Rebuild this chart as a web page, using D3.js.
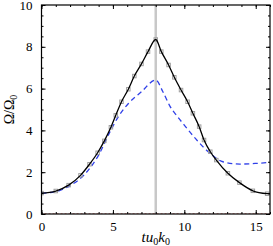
<!DOCTYPE html>
<html>
<head>
<meta charset="utf-8">
<script src="https://cdn.jsdelivr.net/npm/d3@7"></script>
<style>
  body { margin: 0; background: #fff; }
</style>
</head>
<body>
<div id="chart"></div>
<script>

var serif = "'Liberation Serif', 'DejaVu Serif', serif";

// simulation points (black line with grey square markers)
var simT = [0, 1.0, 1.9, 2.73, 3.36, 3.93, 4.4, 4.86, 5.2, 5.6, 6.08, 6.5, 7.0, 7.46, 8.0,
            8.39, 8.9, 9.3, 9.77, 10.23, 10.6, 11.04, 11.38, 11.82, 12.24, 13.05, 13.86, 14.8, 15.8, 16];
var simV = [1.0, 1.1, 1.38, 1.85, 2.38, 2.93, 3.5, 4.15, 4.72, 5.37, 5.97, 6.6, 7.18, 7.77, 8.35,
            7.77, 7.13, 6.54, 5.93, 5.37, 4.82, 4.18, 3.54, 2.98, 2.58, 1.95, 1.5, 1.11, 0.97, 0.96];

// model (blue dashed)
var modelT = [0, 1, 2, 3, 4, 4.8, 5.4, 6.1, 7, 8, 8.5, 9, 9.5, 10, 10.87, 11.8, 12.7, 13.9, 15, 16];
var modelV = [1.0, 1.07, 1.36, 1.88, 2.82, 3.94, 4.68, 5.3, 5.85, 6.41, 5.85, 5.15, 4.68, 4.25, 3.54, 2.9, 2.5, 2.39, 2.42, 2.47];

// red dotted reference
var refT = [0, 0, 16];
var refV = [1, 0, 0];

var markerVisible = simT.map(function(t) { return t < 16; });

var xTicks = [0, 5, 10, 15];
var yTicks = [0, 2, 4, 6, 8, 10];
var tVertical = 8;

var margin = { top: 5, right: 3, bottom: 32, left: 41.5 },
    width = 273 - margin.left - margin.right,
    height = 246 - margin.top - margin.bottom;

var x = d3.scaleLinear().domain([0, 16]).range([0, width]);
var y = d3.scaleLinear().domain([0, 10]).range([height, 0]);

var svg = d3.select("#chart").append("svg")
    .attr("width", 273)
    .attr("height", 246)
  .append("g")
    .attr("transform", "translate(" + margin.left + "," + margin.top + ")");

svg.append("defs").append("clipPath").attr("id", "clip")
  .append("rect").attr("width", width).attr("height", height);

var plot = svg.append("g").attr("clip-path", "url(#clip)");

// grey vertical line
plot.append("line")
    .attr("x1", x(tVertical)).attr("x2", x(tVertical))
    .attr("y1", 0).attr("y2", height)
    .attr("stroke", "#c8c8c8").attr("stroke-width", 2.5);

function zipPts(ts, vs) { return ts.map(function(t, i) { return [t, vs[i]]; }); }

var lineLin = d3.line().x(function(d) { return x(d[0]); }).y(function(d) { return y(d[1]); });
var lineSmooth = d3.line().x(function(d) { return x(d[0]); }).y(function(d) { return y(d[1]); })
    .curve(d3.curveMonotoneX);

// red dotted
plot.append("path")
    .datum(zipPts(refT, refV))
    .attr("d", lineLin)
    .attr("fill", "none").attr("stroke", "#d04040").attr("stroke-width", 1)
    .attr("stroke-dasharray", "2,2");

// blue dashed
plot.append("path")
    .datum(zipPts(modelT, modelV))
    .attr("d", lineSmooth)
    .attr("fill", "none").attr("stroke", "#3040e8").attr("stroke-width", 1.3)
    .attr("stroke-dasharray", "5,3.5");

// markers
plot.append("g").selectAll("rect")
    .data(zipPts(simT, simV).filter(function(d, i) { return markerVisible[i]; }))
    .enter().append("rect")
      .attr("x", function(d) { return x(d[0]) - 1.75; })
      .attr("y", function(d) { return y(d[1]) - 1.75; })
      .attr("width", 3.5).attr("height", 3.5)
      .attr("fill", "none").attr("stroke", "#a0a0a0").attr("stroke-width", 1);

// black line
plot.append("path")
    .datum(zipPts(simT, simV))
    .attr("d", lineSmooth)
    .attr("fill", "none").attr("stroke", "#000").attr("stroke-width", 1.3);

// axes, ticks pointing inward
var xMinor = d3.range(0, 17, 1), yMinor = d3.range(0, 10.01, 0.5);

function styleAxis(g) {
  g.attr("font-family", serif);
  g.select(".domain").remove();
  g.selectAll(".tick line").attr("stroke", "#000").attr("stroke-width", 1);
  g.selectAll("text").attr("font-size", "13px").attr("fill", "#000").attr("font-family", serif);
}

svg.append("g").attr("transform", "translate(0," + height + ")")
  .call(d3.axisBottom(x).tickValues(xMinor).tickSize(-2).tickFormat(""))
  .call(styleAxis);
svg.append("g").attr("transform", "translate(0," + height + ")")
  .call(d3.axisBottom(x).tickValues(xTicks).tickSize(-4).tickPadding(8).tickFormat(d3.format("d")))
  .call(styleAxis);
svg.append("g")
  .call(d3.axisTop(x).tickValues(xMinor).tickSize(-2).tickFormat(""))
  .call(styleAxis);
svg.append("g")
  .call(d3.axisTop(x).tickValues(xTicks).tickSize(-4).tickFormat(""))
  .call(styleAxis);

svg.append("g")
  .call(d3.axisLeft(y).tickValues(yMinor).tickSize(-2).tickFormat(""))
  .call(styleAxis);
svg.append("g")
  .call(d3.axisLeft(y).tickValues(yTicks).tickSize(-4).tickPadding(9).tickFormat(d3.format("d")))
  .call(styleAxis);
svg.append("g").attr("transform", "translate(" + width + ",0)")
  .call(d3.axisRight(y).tickValues(yMinor).tickSize(-2).tickFormat(""))
  .call(styleAxis);
svg.append("g").attr("transform", "translate(" + width + ",0)")
  .call(d3.axisRight(y).tickValues(yTicks).tickSize(-4).tickFormat(""))
  .call(styleAxis);

// frame
svg.append("rect")
    .attr("width", width).attr("height", height)
    .attr("fill", "none").attr("stroke", "#000").attr("stroke-width", 1.2);

// axis labels
var xl = svg.append("text")
    .attr("x", width / 2).attr("y", height + 28)
    .attr("text-anchor", "middle").attr("font-size", "15px").attr("font-style", "italic")
    .attr("font-family", serif);
xl.append("tspan").text("tu");
xl.append("tspan").attr("font-size", "10px").attr("dy", 3).attr("font-style", "normal").text("0");
xl.append("tspan").attr("dy", -3).text("k");
xl.append("tspan").attr("font-size", "10px").attr("dy", 3).attr("font-style", "normal").text("0");

var yl = svg.append("text")
    .attr("transform", "translate(" + (-28) + "," + (height / 2) + ") rotate(-90)")
    .attr("text-anchor", "middle").attr("font-size", "14px")
    .attr("font-family", serif);
yl.append("tspan").text("Ω/Ω");
yl.append("tspan").attr("font-size", "10px").attr("dy", 3).text("0");

</script>
</body>
</html>
